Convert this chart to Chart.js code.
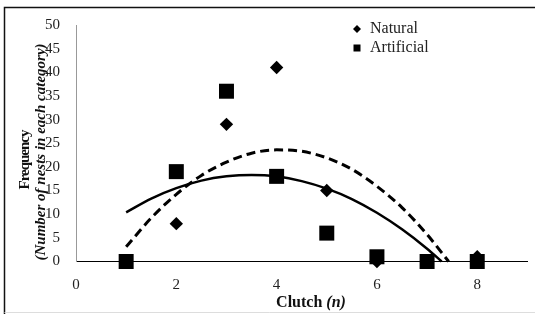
<!DOCTYPE html>
<html>
<head>
<meta charset="utf-8">
<script src="https://cdn.jsdelivr.net/npm/chart.js@4.4.0/dist/chart.umd.min.js"></script>
<style>
  body { margin: 0; background: #fff; }
  canvas { display: block; }
</style>
</head>
<body>
<canvas id="myChart" width="538" height="314"></canvas>
<script>
// clutch size (n) and number of nests per category
const clutch = [1, 2, 3, 4, 5, 6, 7, 8];
const natural = [0, 8, 29, 41, 15, 0, 0, 1];
const artificial = [0, 19, 36, 18, 6, 1, 0, 0];

// trend curves
const trendX = [1, 1.5, 2, 2.5, 3, 3.5, 4, 4.5, 5, 5.5, 6, 6.5, 7];
const artificialTrend = [10.4, 13.3, 15.5, 17.1, 18.0, 18.3, 18.0, 17.0, 15.4, 13.2, 10.3, 6.8, 2.7];
const artificialTrendEnd = [7.29, 0];
const naturalTrend = [3.1, 9.2, 14.2, 18.2, 21.0, 22.9, 23.6, 23.3, 21.9, 19.5, 15.9, 11.4, 5.7];
const naturalTrendEnd = [7.43, 0];

const xTicks = [0, 2, 4, 6, 8];

const serif = '"Liberation Serif", "Times New Roman", serif';

function pts(xs, ys) {
    return xs.map((x, i) => ({ x: x, y: ys[i] }));
}

const artTrendPts = pts(trendX, artificialTrend);
artTrendPts.push({ x: artificialTrendEnd[0], y: artificialTrendEnd[1] });
const natTrendPts = pts(trendX, naturalTrend);
natTrendPts.push({ x: naturalTrendEnd[0], y: naturalTrendEnd[1] });

// frame, axis titles and legend
const extras = {
    id: 'extras',
    beforeDraw(chart) {
        const c = chart.ctx;
        c.save();
        c.fillStyle = '#fff';
        c.fillRect(0, 0, chart.width, chart.height);
        c.lineWidth = 1.5;
        c.strokeStyle = '#111';
        c.beginPath();
        c.moveTo(4.5, 314);
        c.lineTo(4.5, 7.5);
        c.lineTo(535, 7.5);
        c.stroke();
        c.lineWidth = 1;
        c.strokeStyle = '#ddd';
        c.beginPath();
        c.moveTo(4.5, 312.5);
        c.lineTo(535, 312.5);
        c.stroke();
        c.restore();
    },
    afterDraw(chart) {
        const c = chart.ctx;
        c.save();
        c.fillStyle = '#111';
        c.textBaseline = 'middle';

        // y title, two lines
        c.save();
        c.translate(25, 160);
        c.rotate(-Math.PI / 2);
        c.textAlign = 'center';
        c.font = 'bold 15px ' + serif;
        c.letterSpacing = '-1px';
        c.fillText('Frequency', 0, 0);
        c.restore();
        c.save();
        c.translate(41, 152);
        c.rotate(-Math.PI / 2);
        c.textAlign = 'center';
        c.font = 'italic bold 15px ' + serif;
        c.fillText('(Number of nests in each category)', 0, 0);
        c.restore();

        // x title
        c.font = 'bold 16px ' + serif;
        const w1 = c.measureText('Clutch ').width;
        c.font = 'italic bold 16px ' + serif;
        const w2 = c.measureText('(n)').width;
        let x0 = 311 - (w1 + w2) / 2;
        c.textAlign = 'left';
        c.font = 'bold 16px ' + serif;
        c.fillText('Clutch ', x0, 303);
        c.font = 'italic bold 16px ' + serif;
        c.fillText('(n)', x0 + w1, 303);

        // legend
        c.fillStyle = '#000';
        c.beginPath();
        c.moveTo(357, 25);
        c.lineTo(361, 29);
        c.lineTo(357, 33);
        c.lineTo(353, 29);
        c.closePath();
        c.fill();
        c.fillRect(353.5, 44.5, 7, 7);
        c.fillStyle = '#222';
        c.font = '16px ' + serif;
        c.fillText('Natural', 370, 29);
        c.fillText('Artificial', 370, 48);
        c.restore();
    }
};

const ctx = document.getElementById('myChart');

new Chart(ctx, {
    type: 'scatter',
    data: {
        datasets: [
            {
                label: 'Natural',
                data: pts(clutch, natural),
                pointStyle: 'rectRot',
                pointRadius: 6.7,
                backgroundColor: '#000',
                borderColor: '#000',
                borderWidth: 0,
                clip: false,
                order: 1
            },
            {
                label: 'Artificial',
                data: pts(clutch, artificial),
                pointStyle: 'rect',
                pointRadius: 10.6,
                backgroundColor: '#000',
                borderColor: '#000',
                borderWidth: 0,
                clip: false,
                order: 0
            },
            {
                label: 'Natural trend',
                data: natTrendPts,
                showLine: true,
                pointRadius: 0,
                borderColor: '#000',
                borderWidth: 3,
                borderDash: [9, 5],
                cubicInterpolationMode: 'monotone',
                clip: false,
                order: 2
            },
            {
                label: 'Artificial trend',
                data: artTrendPts,
                showLine: true,
                pointRadius: 0,
                borderColor: '#000',
                borderWidth: 2.5,
                cubicInterpolationMode: 'monotone',
                clip: false,
                order: 2
            }
        ]
    },
    options: {
        responsive: false,
        animation: false,
        devicePixelRatio: 1,
        layout: {
            padding: { left: 0, top: 20, right: 8.5, bottom: 0 }
        },
        plugins: {
            legend: { display: false },
            tooltip: { enabled: false }
        },
        scales: {
            x: {
                type: 'linear',
                min: 0,
                max: 9,
                afterBuildTicks: (scale) => {
                    scale.ticks = xTicks.map(v => ({ value: v }));
                },
                afterFit: (scale) => { scale.height = 52.5; },
                grid: { display: false, drawTicks: false },
                border: { display: true, color: '#000', width: 1 },
                ticks: {
                    padding: 15,
                    color: '#222',
                    font: { family: serif, size: 15 }
                }
            },
            y: {
                min: 0,
                max: 50,
                afterFit: (scale) => { scale.width = 76; },
                grid: { display: false, drawTicks: false },
                border: { display: true, color: '#999', width: 1 },
                ticks: {
                    stepSize: 5,
                    padding: 16,
                    color: '#222',
                    font: { family: serif, size: 15 }
                }
            }
        }
    },
    plugins: [extras]
});
</script>
</body>
</html>
